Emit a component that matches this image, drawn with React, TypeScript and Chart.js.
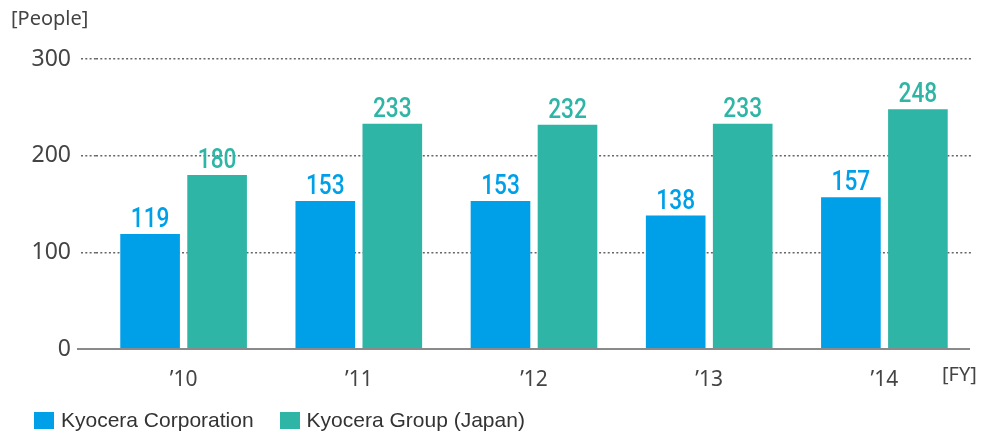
import React, { useEffect, useRef } from "react";
import { Chart, registerables } from "chart.js";

Chart.register(...registerables);

const categories = ["’10", "’11", "’12", "’13", "’14"];
const corporationValues = [119, 153, 153, 138, 157];
const groupValues = [180, 233, 232, 233, 248];
const seriesNames = ["Kyocera Corporation", "Kyocera Group (Japan)"];
const yUnitLabel = "[People]";
const xUnitLabel = "[FY]";

const BLUE = "#00a0e9";
const GREEN = "#2fb5a5";
const FONT = "'Noto Sans', 'Liberation Sans', sans-serif";

const decorPlugin = {
  id: "decor",
  afterDatasetsDraw(chart: any) {
    const ctx = chart.ctx;
    const y = chart.scales.y;
    const x = chart.scales.x;
    // value labels (condensed look via horizontal scale)
    chart.data.datasets.forEach((ds: any, di: number) => {
      const meta = chart.getDatasetMeta(di);
      meta.data.forEach((el: any, i: number) => {
        ctx.save();
        ctx.translate(el.x, el.y - 7);
        ctx.scale(0.84, 1);
        ctx.font = `500 27px Roboto, ${FONT}`;
        ctx.textAlign = "center";
        ctx.textBaseline = "alphabetic";
        ctx.fillStyle = ds.backgroundColor;
        ctx.fillText(String(ds.data[i]), 0, 0);
        ctx.restore();
      });
    });
    ctx.save();
    // baseline axis
    const y0 = y.getPixelForValue(0);
    ctx.strokeStyle = "#8a8a8a";
    ctx.lineWidth = 2;
    ctx.beginPath();
    ctx.moveTo(chart.chartArea.left - 19, y0);
    ctx.lineTo(chart.chartArea.right - 2, y0);
    ctx.stroke();
    // unit labels
    ctx.fillStyle = "#444";
    ctx.font = `20px ${FONT}`;
    ctx.textAlign = "left";
    ctx.textBaseline = "middle";
    ctx.fillText(yUnitLabel, 11, 19);
    ctx.fillText(xUnitLabel, 942, x.top + 26);
    ctx.restore();
  },
};

export default function App() {
  const canvasRef = useRef<HTMLCanvasElement | null>(null);

  useEffect(() => {
    if (!canvasRef.current) return;
    const chart = new Chart(canvasRef.current, {
      type: "bar",
      data: {
        labels: categories,
        datasets: [
          {
            label: seriesNames[0],
            data: corporationValues,
            backgroundColor: BLUE,
            categoryPercentage: 0.765,
            barPercentage: 0.89,
          },
          {
            label: seriesNames[1],
            data: groupValues,
            backgroundColor: GREEN,
            categoryPercentage: 0.765,
            barPercentage: 0.89,
          },
        ],
      },
      options: {
        animation: false,
        responsive: false,
        maintainAspectRatio: false,
        layout: { padding: { top: 59, bottom: 46, left: 0, right: 11 } },
        plugins: {
          legend: { display: false },
          tooltip: { enabled: false },
        },
        scales: {
          x: {
            grid: { display: false },
            border: { display: false },
            ticks: {
              color: "#444",
              font: { family: FONT, size: 21 },
              padding: 10,
            },
            afterFit: (s: any) => {
              s.height = 40;
            },
          },
          y: {
            min: 0,
            max: 300,
            ticks: {
              stepSize: 100,
              color: "#444",
              font: { family: FONT, size: 23 },
              padding: 10,
            },
            grid: {
              color: (c: any) => (c.tick && c.tick.value === 0 ? "rgba(0,0,0,0)" : "#666"),
              tickColor: (c: any) => (c.tick && c.tick.value === 0 ? "rgba(0,0,0,0)" : "#666"),
              lineWidth: 1.5,
              tickWidth: 1.5,
              drawTicks: true,
              tickLength: 15,
              tickBorderDash: [2, 2.3],
            },
            border: { display: false, dash: [2, 2.3] },
            afterFit: (s: any) => {
              s.width = 96;
            },
          },
        },
      },
      plugins: [decorPlugin],
    });
    return () => chart.destroy();
  }, []);

  return (
    <div style={{ position: "fixed", left: 0, top: 0, width: 983, height: 435, background: "#fff" }}>
      <canvas ref={canvasRef} width={983} height={435} style={{ display: "block" }} />
      <div
        style={{
          position: "absolute",
          left: 34,
          top: 408,
          display: "flex",
          alignItems: "center",
          fontFamily: "'Liberation Sans', Arial, sans-serif",
          fontSize: 21,
          color: "#333",
          lineHeight: "24px",
        }}
      >
        <span style={{ display: "inline-block", width: 20, height: 17, background: BLUE, marginRight: 7 }} />
        <span style={{ marginRight: 26 }}>{seriesNames[0]}</span>
        <span style={{ display: "inline-block", width: 20, height: 17, background: GREEN, marginRight: 7 }} />
        <span>{seriesNames[1]}</span>
      </div>
    </div>
  );
}
